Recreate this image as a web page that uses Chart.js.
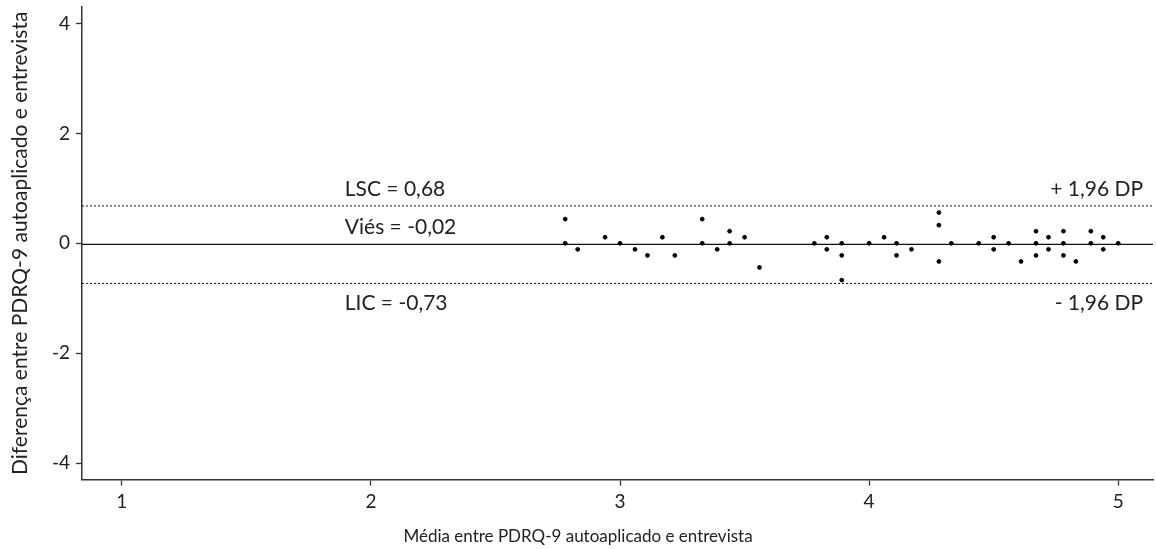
<!DOCTYPE html>
<html>
<head>
<meta charset="utf-8">
<script src="https://cdn.jsdelivr.net/npm/chart.js@4"></script>
<style>
  html, body { margin: 0; padding: 0; background: #fff; }
</style>
</head>
<body>
<canvas id="baChart" width="1156" height="549"></canvas>
<script>
// médias (x) e diferenças (y)
const meanVals = [
  2.78, 2.78, 2.83, 2.94, 3.00, 3.06, 3.11, 3.17, 3.22, 3.33, 3.33, 3.39, 3.44, 3.44, 3.50, 3.56,
  3.78, 3.83, 3.83, 3.89, 3.89, 3.89, 4.00, 4.06, 4.11, 4.11, 4.17, 4.28, 4.28, 4.28, 4.33,
  4.44, 4.50, 4.50, 4.56, 4.61, 4.67, 4.67, 4.67, 4.72, 4.72, 4.78, 4.78, 4.78, 4.83, 4.89, 4.89, 4.94, 4.94, 5.00
];
const diffVals = [
  0.44, 0, -0.11, 0.11, 0, -0.11, -0.22, 0.11, -0.22, 0.44, 0, -0.11, 0, 0.22, 0.11, -0.44,
  0, 0.11, -0.11, 0, -0.22, -0.67, 0, 0.11, 0, -0.22, -0.11, 0.56, 0.33, -0.33, 0,
  0, 0.11, -0.11, 0, -0.33, 0.22, 0, -0.22, 0.11, -0.11, 0.22, 0, -0.22, -0.33, 0.22, 0, 0.11, -0.11, 0
];
const xTicks = [1, 2, 3, 4, 5];
const yTicks = [-4, -2, 0, 2, 4];
const limitVals = [0.68, -0.02, -0.73];
const leftLabels = ["LSC = 0,68", "Viés = -0,02", "LIC = -0,73"];
const rightLabels = ["+ 1,96 DP", "", "- 1,96 DP"];

const X_MIN = 0.84, X_MAX = 5.14;
const Y_MIN = -4.3, Y_MAX = 4.3;
const FONT = "Lato";
const INK = "#222";

const points = meanVals.map((m, i) => ({ x: m, y: diffVals[i] }));

function limitLine(v, dashed) {
  return {
    type: "line",
    data: [{ x: X_MIN, y: v }, { x: X_MAX, y: v }],
    borderColor: "#111",
    borderWidth: dashed ? 1 : 1.4,
    borderDash: dashed ? [2, 2] : [],
    pointRadius: 0,
    order: 2,
  };
}

const labelPlugin = {
  id: "limitLabels",
  afterDatasetsDraw(chart) {
    const ctx = chart.ctx;
    const xs = chart.scales.x;
    const ys = chart.scales.y;
    ctx.save();
    ctx.font = "21px " + FONT;
    ctx.fillStyle = INK;
    ctx.textBaseline = "alphabetic";
    limitVals.forEach((v, i) => {
      const py = ys.getPixelForValue(v);
      const ty = v < -0.5 ? py + 27 : py - 10;
      ctx.textAlign = "left";
      ctx.fillText(leftLabels[i], xs.getPixelForValue(1.895), ty);
      if (rightLabels[i]) {
        ctx.textAlign = "right";
        ctx.fillText(rightLabels[i], xs.getPixelForValue(5.1), ty);
      }
    });
    ctx.restore();
  },
};

new Chart(document.getElementById("baChart"), {
  data: {
    datasets: [
      {
        type: "scatter",
        data: points,
        backgroundColor: "#000",
        borderColor: "#000",
        pointRadius: 1.9,
        pointHoverRadius: 1.9,
        order: 1,
      },
      limitLine(limitVals[0], true),
      limitLine(limitVals[1], false),
      limitLine(limitVals[2], true),
    ],
  },
  options: {
    responsive: false,
    animation: false,
    events: [],
    layout: { padding: { top: 7, right: 0, left: 0, bottom: 0 } },
    plugins: {
      legend: { display: false },
      tooltip: { enabled: false },
      title: {
        display: true,
        position: "bottom",
        text: "Média entre PDRQ-9 autoaplicado e entrevista",
        color: INK,
        font: { family: FONT, size: 17, weight: "normal" },
        padding: { top: 0, bottom: 2 },
      },
    },
    scales: {
      x: {
        type: "linear",
        min: X_MIN,
        max: X_MAX,
        afterBuildTicks: (s) => { s.ticks = xTicks.map((v) => ({ value: v })); },
        afterFit: (s) => { s.height = 47; s.paddingLeft = 0; s.paddingRight = 0; },
        ticks: { color: INK, font: { family: FONT, size: 19 }, padding: 5, maxRotation: 0 },
        grid: { drawOnChartArea: false, drawTicks: true, tickLength: 6, tickColor: "#333", tickWidth: 1.3 },
        border: { display: true, color: "#333", width: 1.5 },
      },
      y: {
        type: "linear",
        min: Y_MIN,
        max: Y_MAX,
        afterBuildTicks: (s) => { s.ticks = yTicks.map((v) => ({ value: v })); },
        afterFit: (s) => { s.width = 82; s.paddingTop = 0; s.paddingBottom = 0; },
        ticks: { color: INK, font: { family: FONT, size: 19 }, padding: 6 },
        grid: { drawOnChartArea: false, drawTicks: true, tickLength: 6, tickColor: "#333", tickWidth: 1.3 },
        border: { display: true, color: "#333", width: 1.5 },
        title: {
          display: true,
          text: "Diferença entre PDRQ-9 autoaplicado e entrevista",
          color: INK,
          font: { family: FONT, size: 21, weight: "normal" },
          padding: { top: 8, bottom: 0 },
        },
      },
    },
  },
  plugins: [labelPlugin],
});
</script>
</body>
</html>
